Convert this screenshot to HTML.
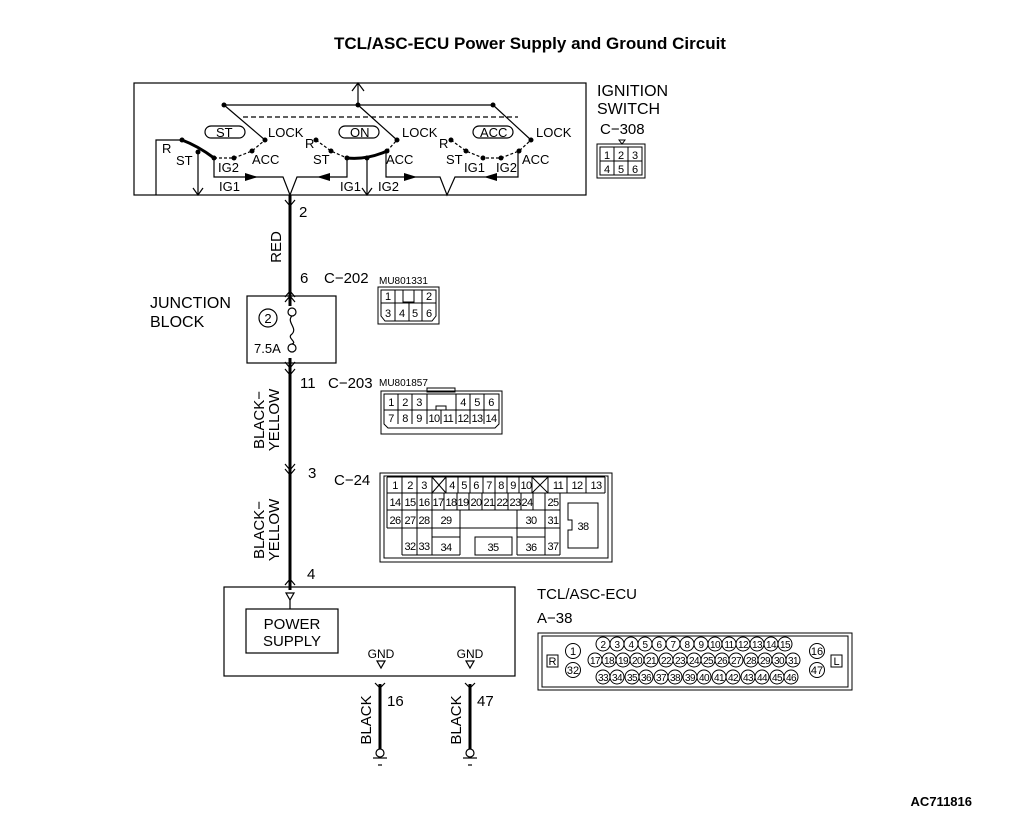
<!DOCTYPE html>
<html><head><meta charset="utf-8"><style>
html,body{margin:0;padding:0;background:#fff}
svg{display:block}
text{font-family:"Liberation Sans Narrow","Liberation Sans",sans-serif;fill:#000}
.w{font-family:"Liberation Sans",sans-serif}
.p text{letter-spacing:-0.6px}
</style></head><body>
<svg width="1010" height="826" viewBox="0 0 1010 826" xmlns="http://www.w3.org/2000/svg">
<text x="530" y="49" text-anchor="middle" class="w" font-size="17" font-weight="bold">TCL/ASC-ECU Power Supply and Ground Circuit</text>

<g stroke="#000" fill="none" stroke-width="1.2">
<rect x="134" y="83" width="452" height="112"/>
<line x1="358" y1="83" x2="358" y2="105"/><polyline points="352,91 358,83 364,91"/>
<line x1="224" y1="105" x2="493" y2="105"/>
<line x1="243" y1="117" x2="518" y2="117" stroke-dasharray="5,3"/>
<line x1="224" y1="105" x2="265" y2="140"/>
<line x1="358" y1="105" x2="397" y2="140"/>
<line x1="493" y1="105" x2="531" y2="140"/>
<rect x="205" y="126" width="40" height="12" rx="6"/>
<rect x="339" y="126" width="40" height="12" rx="6"/>
<rect x="473" y="126" width="40" height="12" rx="6"/>
<polyline points="156,195 156,140 182,140"/>
<path d="M182,140 Q198,146 214,158" stroke-width="3"/>
<path d="M214,158 L234,158 L252,151 L265,140" stroke-dasharray="3,2"/>
<line x1="198" y1="152" x2="198" y2="195"/><polyline points="193,188 198,195 203,188"/>
<polyline points="214,158 214,177 283,177 290,195 297,177 347,177 347,158"/>
<path d="M316,140 L331,151 L347,158" stroke-dasharray="3,2"/>
<path d="M347,158 Q367,160 387,151" stroke-width="3"/>
<line x1="367" y1="158" x2="367" y2="195"/><polyline points="362,188 367,195 372,188"/>
<polyline points="386,151 386,177 440,177 447,195 455,177 518,177 518,151"/>
<path d="M387,151 L397,140" stroke-dasharray="3,2"/>
<path d="M451,140 L466,151 L483,158 L501,158 L519,151 L531,140" stroke-dasharray="3,2"/>
</g>
<g fill="#000">
<circle cx="224" cy="105" r="2.5"/><circle cx="358" cy="105" r="2.5"/><circle cx="493" cy="105" r="2.5"/>
<circle cx="265" cy="140" r="2.5"/><circle cx="397" cy="140" r="2.5"/><circle cx="531" cy="140" r="2.5"/>
<circle cx="182" cy="140" r="2.5"/><circle cx="198" cy="152" r="2.5"/><circle cx="214" cy="158" r="2.5"/><circle cx="234" cy="158" r="2.5"/><circle cx="252" cy="151" r="2.5"/>
<circle cx="316" cy="140" r="2.5"/><circle cx="331" cy="151" r="2.5"/><circle cx="347" cy="158" r="2.5"/><circle cx="367" cy="158" r="2.5"/><circle cx="387" cy="151" r="2.5"/>
<circle cx="451" cy="140" r="2.5"/><circle cx="466" cy="151" r="2.5"/><circle cx="483" cy="158" r="2.5"/><circle cx="501" cy="158" r="2.5"/><circle cx="519" cy="151" r="2.5"/>
<polygon points="245,173 258,177 245,181"/>
<polygon points="330,173 317,177 330,181"/>
<polygon points="404,173 417,177 404,181"/>
<polygon points="497,173 484,177 497,181"/>
</g>
<g font-size="13">
<text x="216" y="137">ST</text><text x="350" y="137">ON</text><text x="480" y="137">ACC</text>
<text x="268" y="137">LOCK</text><text x="402" y="137">LOCK</text><text x="536" y="137">LOCK</text>
<text x="162" y="153">R</text><text x="176" y="165">ST</text><text x="218" y="172">IG2</text><text x="252" y="164">ACC</text><text x="219" y="191">IG1</text>
<text x="305" y="148">R</text><text x="313" y="164">ST</text><text x="386" y="164">ACC</text><text x="340" y="191">IG1</text><text x="378" y="191">IG2</text>
<text x="439" y="148">R</text><text x="446" y="164">ST</text><text x="464" y="172">IG1</text><text x="496" y="172">IG2</text><text x="522" y="164">ACC</text>
</g>

<g stroke="#000" fill="none">
<line x1="290" y1="195" x2="290" y2="590" stroke-width="3"/>
<g stroke-width="1.2">
<polyline points="285,200 290,206 295,200"/>
<polyline points="285,297 290,291 295,297"/>
<polyline points="285,302 290,296 295,302"/>
<rect x="247" y="296" width="89" height="67"/>
<polyline points="285,362 290,368 295,362"/>
<polyline points="285,369 290,375 295,369"/>
<polyline points="285,464 290,470 295,464"/>
<polyline points="285,469 290,475 295,469"/>
<polyline points="285,585 290,579 295,585"/>
</g>
</g>
<rect x="286" y="306" width="10" height="52" fill="#fff"/>
<g stroke="#000" fill="#fff" stroke-width="1.2">
<circle cx="292" cy="312" r="4"/><circle cx="292" cy="348" r="4"/>
<path d="M292,316 C286,322 298,328 292,334 C286,338 298,342 292,344" fill="none"/>
<circle cx="268" cy="318" r="9"/>
</g>
<text x="268" y="323" text-anchor="middle" font-size="13">2</text>
<text x="254" y="353" font-size="13">7.5A</text>
<text x="150" y="308" class="w" font-size="16">JUNCTION</text>
<text x="150" y="327" class="w" font-size="16">BLOCK</text>
<g font-size="15">
<text x="299" y="217">2</text>
<text x="300" y="283">6</text><text x="324" y="283">C−202</text>
<text x="300" y="388">11</text><text x="328" y="388">C−203</text>
<text x="308" y="478">3</text><text x="334" y="485">C−24</text>
<text x="307" y="579">4</text>
</g>
<g font-size="15">
<text transform="translate(281,247) rotate(-90)" text-anchor="middle">RED</text>
<text transform="translate(264,420) rotate(-90)" text-anchor="middle">BLACK−</text>
<text transform="translate(279,420) rotate(-90)" text-anchor="middle">YELLOW</text>
<text transform="translate(264,530) rotate(-90)" text-anchor="middle">BLACK−</text>
<text transform="translate(279,530) rotate(-90)" text-anchor="middle">YELLOW</text>
</g>

<text x="597" y="96" class="w" font-size="16">IGNITION</text>
<text x="597" y="114" class="w" font-size="16">SWITCH</text>
<text x="600" y="134" font-size="15">C−308</text>
<g stroke="#000" fill="none" stroke-width="1">
<polygon points="619,140 625,140 622,144"/>
<rect x="597" y="144" width="48" height="34"/>
<rect x="600" y="147" width="42" height="28"/>
<line x1="600" y1="161" x2="642" y2="161"/><line x1="614" y1="147" x2="614" y2="175"/><line x1="628" y1="147" x2="628" y2="175"/>
</g>
<g font-size="11" text-anchor="middle">
<text x="607" y="159">1</text><text x="621" y="159">2</text><text x="635" y="159">3</text>
<text x="607" y="173">4</text><text x="621" y="173">5</text><text x="635" y="173">6</text>
</g>

<text x="379" y="284" font-size="10">MU801331</text>
<g stroke="#000" fill="none" stroke-width="1">
<rect x="378" y="287" width="61" height="37"/>
<path d="M381,290 H436 V316 L432,321 H385 L381,316 Z"/>
<line x1="381" y1="303" x2="436" y2="303"/>
<line x1="395" y1="290" x2="395" y2="303"/><line x1="422" y1="290" x2="422" y2="303"/>
<rect x="403" y="290" width="11" height="12"/>
<line x1="395" y1="303" x2="395" y2="321"/><line x1="409" y1="303" x2="409" y2="321"/><line x1="422" y1="303" x2="422" y2="321"/>
</g>
<g font-size="11" text-anchor="middle">
<text x="388" y="300">1</text><text x="429" y="300">2</text>
<text x="388" y="317">3</text><text x="402" y="317">4</text><text x="415" y="317">5</text><text x="429" y="317">6</text>
</g>

<text x="379" y="386" font-size="10">MU801857</text>
<g stroke="#000" fill="none" stroke-width="1">
<rect x="427" y="388" width="28" height="4"/>
<rect x="381" y="391" width="121" height="43"/>
<path d="M384,394 H499 V424 L495,428 H388 L384,424 Z"/>
<line x1="384" y1="410" x2="499" y2="410"/>
<line x1="398" y1="394" x2="398" y2="424"/><line x1="412" y1="394" x2="412" y2="424"/><line x1="427" y1="394" x2="427" y2="410"/>
<line x1="456" y1="394" x2="456" y2="424"/><line x1="470" y1="394" x2="470" y2="424"/><line x1="484" y1="394" x2="484" y2="424"/>
<line x1="427" y1="410" x2="427" y2="424"/><line x1="441" y1="410" x2="441" y2="424"/>
<rect x="436" y="406" width="10" height="4"/>
</g>
<g font-size="11" text-anchor="middle" class="p">
<text x="391" y="406">1</text><text x="405" y="406">2</text><text x="419" y="406">3</text><text x="463" y="406">4</text><text x="477" y="406">5</text><text x="491" y="406">6</text>
<text x="391" y="422">7</text><text x="405" y="422">8</text><text x="419" y="422">9</text><text x="434" y="422">10</text><text x="448" y="422">11</text><text x="463" y="422">12</text><text x="477" y="422">13</text><text x="491" y="422">14</text>
</g>

<g stroke="#000" fill="none" stroke-width="1">
<rect x="380" y="473" width="232" height="89"/>
<rect x="384" y="476" width="224" height="82"/>
<line x1="387" y1="493" x2="605" y2="493"/><line x1="387" y1="510" x2="560" y2="510"/>
<line x1="387" y1="477" x2="605" y2="477"/>
<line x1="387" y1="477" x2="387" y2="528"/>
<line x1="402" y1="477" x2="402" y2="555"/><line x1="417" y1="477" x2="417" y2="555"/><line x1="432" y1="477" x2="432" y2="555"/>
<line x1="446" y1="477" x2="446" y2="493"/>
<line x1="432" y1="477" x2="446" y2="493"/><line x1="446" y1="477" x2="432" y2="493"/>
<line x1="458" y1="477" x2="458" y2="493"/><line x1="470" y1="477" x2="470" y2="493"/><line x1="483" y1="477" x2="483" y2="493"/><line x1="495" y1="477" x2="495" y2="493"/><line x1="507" y1="477" x2="507" y2="493"/><line x1="519" y1="477" x2="519" y2="493"/><line x1="532" y1="477" x2="532" y2="493"/>
<line x1="548" y1="477" x2="548" y2="493"/>
<line x1="532" y1="477" x2="548" y2="493"/><line x1="548" y1="477" x2="532" y2="493"/>
<line x1="567" y1="477" x2="567" y2="493"/><line x1="586" y1="477" x2="586" y2="493"/><line x1="605" y1="477" x2="605" y2="493"/>
<line x1="444" y1="493" x2="444" y2="510"/><line x1="457" y1="493" x2="457" y2="510"/><line x1="469" y1="493" x2="469" y2="510"/><line x1="482" y1="493" x2="482" y2="510"/><line x1="495" y1="493" x2="495" y2="510"/><line x1="508" y1="493" x2="508" y2="510"/><line x1="521" y1="493" x2="521" y2="510"/><line x1="533" y1="493" x2="533" y2="510"/><line x1="545" y1="493" x2="545" y2="555"/><line x1="560" y1="493" x2="560" y2="555"/>
<line x1="387" y1="528" x2="560" y2="528"/>
<line x1="460" y1="510" x2="460" y2="555"/><line x1="517" y1="510" x2="517" y2="555"/>
<line x1="432" y1="537" x2="460" y2="537"/><line x1="517" y1="537" x2="545" y2="537"/>
<rect x="475" y="537" width="37" height="18"/>
<line x1="402" y1="555" x2="460" y2="555"/><line x1="517" y1="555" x2="560" y2="555"/>
<path d="M568,503 H598 V548 H568 V530 H572 V520 H568 Z"/>
</g>
<g font-size="11" text-anchor="middle" class="p">
<text x="395" y="489">1</text><text x="410" y="489">2</text><text x="424" y="489">3</text>
<text x="452" y="489">4</text><text x="464" y="489">5</text><text x="476" y="489">6</text><text x="489" y="489">7</text><text x="501" y="489">8</text><text x="513" y="489">9</text><text x="526" y="489">10</text>
<text x="558" y="489">11</text><text x="577" y="489">12</text><text x="596" y="489">13</text>
<text x="395" y="506">14</text><text x="410" y="506">15</text><text x="424" y="506">16</text>
<text x="438" y="506">17</text><text x="451" y="506">18</text><text x="463" y="506">19</text><text x="476" y="506">20</text><text x="489" y="506">21</text><text x="502" y="506">22</text><text x="515" y="506">23</text><text x="527" y="506">24</text><text x="553" y="506">25</text>
<text x="395" y="524">26</text><text x="410" y="524">27</text><text x="424" y="524">28</text><text x="446" y="524">29</text><text x="531" y="524">30</text><text x="553" y="524">31</text>
<text x="410" y="550">32</text><text x="424" y="550">33</text><text x="446" y="551">34</text><text x="493" y="551">35</text><text x="531" y="551">36</text><text x="553" y="550">37</text>
<text x="583" y="530">38</text>
</g>

<g stroke="#000" fill="none" stroke-width="1.2">
<rect x="224" y="587" width="291" height="89"/>
<polygon points="286,593 294,593 290,600"/><line x1="290" y1="600" x2="290" y2="609"/>
<rect x="246" y="609" width="92" height="44"/>
<polygon points="377,661 385,661 381,668"/>
<polygon points="466,661 474,661 470,668"/>
<polyline points="375,683 380,688 385,683"/>
<polyline points="465,683 470,688 475,683"/>
<line x1="380" y1="684" x2="380" y2="749" stroke-width="3"/>
<line x1="470" y1="684" x2="470" y2="749" stroke-width="3"/>
<circle cx="380" cy="753" r="4"/><circle cx="470" cy="753" r="4"/>
<line x1="373" y1="758" x2="387" y2="758"/><line x1="463" y1="758" x2="477" y2="758"/>
<line x1="378" y1="765" x2="382" y2="765"/><line x1="468" y1="765" x2="472" y2="765"/>
</g>
<text x="292" y="629" text-anchor="middle" class="w" font-size="15">POWER</text>
<text x="292" y="646" text-anchor="middle" class="w" font-size="15">SUPPLY</text>
<text x="381" y="658" text-anchor="middle" font-size="12">GND</text>
<text x="470" y="658" text-anchor="middle" font-size="12">GND</text>
<text x="387" y="706" font-size="15">16</text><text x="477" y="706" font-size="15">47</text>
<text transform="translate(371,720) rotate(-90)" text-anchor="middle" font-size="15">BLACK</text>
<text transform="translate(461,720) rotate(-90)" text-anchor="middle" font-size="15">BLACK</text>

<text x="537" y="599" class="w" font-size="15">TCL/ASC-ECU</text>
<text x="537" y="623" font-size="15">A−38</text>
<g stroke="#000" fill="none" stroke-width="1">
<rect x="538" y="633" width="314" height="57"/>
<rect x="542" y="636" width="306" height="51"/>
<rect x="547" y="655" width="11" height="12"/>
<rect x="831" y="655" width="11" height="12"/>
<circle cx="573" cy="651" r="7.5"/><circle cx="573" cy="670" r="7.5"/>
<circle cx="817" cy="651" r="7.5"/><circle cx="817" cy="670" r="7.5"/>
</g>
<g font-size="11" text-anchor="middle">
<text x="552.5" y="665">R</text><text x="836.5" y="665">L</text>
<text x="573" y="655">1</text><text x="573" y="674">32</text><text x="817" y="655">16</text><text x="817" y="674">47</text>
</g>
<g stroke="#000" fill="none" stroke-width="1">
<circle cx="603" cy="644" r="7"/><circle cx="617" cy="644" r="7"/><circle cx="631" cy="644" r="7"/><circle cx="645" cy="644" r="7"/><circle cx="659" cy="644" r="7"/><circle cx="673" cy="644" r="7"/><circle cx="687" cy="644" r="7"/><circle cx="701" cy="644" r="7"/><circle cx="715" cy="644" r="7"/><circle cx="729" cy="644" r="7"/><circle cx="743" cy="644" r="7"/><circle cx="757" cy="644" r="7"/><circle cx="771" cy="644" r="7"/><circle cx="785" cy="644" r="7"/>
<circle cx="595" cy="660" r="7"/><circle cx="609" cy="660" r="7"/><circle cx="623" cy="660" r="7"/><circle cx="637" cy="660" r="7"/><circle cx="651" cy="660" r="7"/><circle cx="666" cy="660" r="7"/><circle cx="680" cy="660" r="7"/><circle cx="694" cy="660" r="7"/><circle cx="708" cy="660" r="7"/><circle cx="722" cy="660" r="7"/><circle cx="736" cy="660" r="7"/><circle cx="751" cy="660" r="7"/><circle cx="765" cy="660" r="7"/><circle cx="779" cy="660" r="7"/><circle cx="793" cy="660" r="7"/>
<circle cx="603" cy="677" r="7"/><circle cx="617" cy="677" r="7"/><circle cx="632" cy="677" r="7"/><circle cx="646" cy="677" r="7"/><circle cx="661" cy="677" r="7"/><circle cx="675" cy="677" r="7"/><circle cx="690" cy="677" r="7"/><circle cx="704" cy="677" r="7"/><circle cx="719" cy="677" r="7"/><circle cx="733" cy="677" r="7"/><circle cx="748" cy="677" r="7"/><circle cx="762" cy="677" r="7"/><circle cx="777" cy="677" r="7"/><circle cx="791" cy="677" r="7"/>
</g>
<g font-size="10" text-anchor="middle" class="p">
<text x="603" y="648">2</text><text x="617" y="648">3</text><text x="631" y="648">4</text><text x="645" y="648">5</text><text x="659" y="648">6</text><text x="673" y="648">7</text><text x="687" y="648">8</text><text x="701" y="648">9</text><text x="715" y="648">10</text><text x="729" y="648">11</text><text x="743" y="648">12</text><text x="757" y="648">13</text><text x="771" y="648">14</text><text x="785" y="648">15</text>
<text x="595" y="664">17</text><text x="609" y="664">18</text><text x="623" y="664">19</text><text x="637" y="664">20</text><text x="651" y="664">21</text><text x="666" y="664">22</text><text x="680" y="664">23</text><text x="694" y="664">24</text><text x="708" y="664">25</text><text x="722" y="664">26</text><text x="736" y="664">27</text><text x="751" y="664">28</text><text x="765" y="664">29</text><text x="779" y="664">30</text><text x="793" y="664">31</text>
<text x="603" y="681">33</text><text x="617" y="681">34</text><text x="632" y="681">35</text><text x="646" y="681">36</text><text x="661" y="681">37</text><text x="675" y="681">38</text><text x="690" y="681">39</text><text x="704" y="681">40</text><text x="719" y="681">41</text><text x="733" y="681">42</text><text x="748" y="681">43</text><text x="762" y="681">44</text><text x="777" y="681">45</text><text x="791" y="681">46</text>
</g>

<text x="972" y="806" text-anchor="end" class="w" font-size="13" font-weight="bold">AC711816</text>
</svg>
</body></html>
